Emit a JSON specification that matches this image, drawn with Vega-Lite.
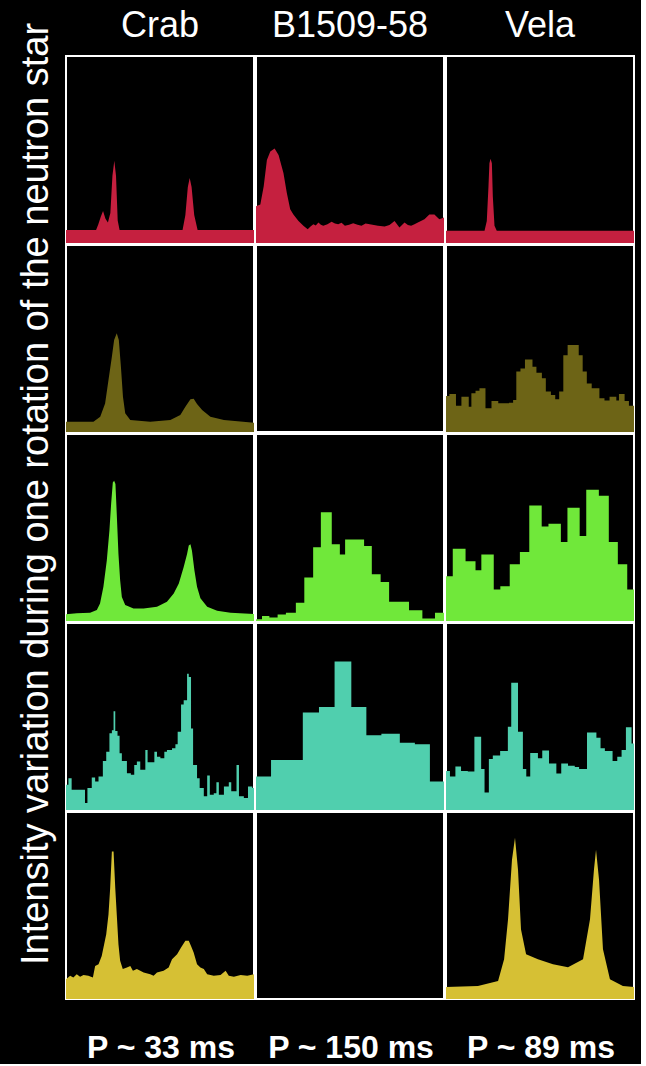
{
"$schema": "https://vega.github.io/schema/vega-lite/v6.json",
"background": "black",
"padding": {"left": 17, "top": 8, "right": 5, "bottom": 0},
"title": {"text": "Intensity variation during one rotation of the neutron star", "orient": "left", "anchor": "middle", "color": "white", "fontSize": 38, "font": "Liberation Sans", "fontWeight": "normal", "offset": 9, "dx": 42},
"spacing": 18,
"vconcat": [
{
"data": {"values": [
{"src":"Crab","band":1,"k":"s","ph":0,"v":0.07},{"src":"Crab","band":1,"k":"s","ph":0.16,"v":0.07},{"src":"Crab","band":1,"k":"s","ph":0.172,"v":0.1},{"src":"Crab","band":1,"k":"s","ph":0.185,"v":0.14},{"src":"Crab","band":1,"k":"s","ph":0.197,"v":0.171},{"src":"Crab","band":1,"k":"s","ph":0.21,"v":0.13},{"src":"Crab","band":1,"k":"s","ph":0.223,"v":0.11},{"src":"Crab","band":1,"k":"s","ph":0.236,"v":0.16},{"src":"Crab","band":1,"k":"s","ph":0.247,"v":0.36},{"src":"Crab","band":1,"k":"s","ph":0.257,"v":0.44},{"src":"Crab","band":1,"k":"s","ph":0.266,"v":0.36},{"src":"Crab","band":1,"k":"s","ph":0.275,"v":0.12},{"src":"Crab","band":1,"k":"s","ph":0.285,"v":0.07},{"src":"Crab","band":1,"k":"s","ph":0.62,"v":0.07},{"src":"Crab","band":1,"k":"s","ph":0.635,"v":0.15},{"src":"Crab","band":1,"k":"s","ph":0.648,"v":0.3},{"src":"Crab","band":1,"k":"s","ph":0.658,"v":0.348},{"src":"Crab","band":1,"k":"s","ph":0.668,"v":0.3},{"src":"Crab","band":1,"k":"s","ph":0.682,"v":0.15},{"src":"Crab","band":1,"k":"s","ph":0.7,"v":0.07},{"src":"Crab","band":1,"k":"s","ph":1,"v":0.07},
{"src":"B1509-58","band":1,"k":"s","ph":0,"v":0.197},{"src":"B1509-58","band":1,"k":"s","ph":0.023,"v":0.206},{"src":"B1509-58","band":1,"k":"s","ph":0.041,"v":0.303},{"src":"B1509-58","band":1,"k":"s","ph":0.058,"v":0.444},{"src":"B1509-58","band":1,"k":"s","ph":0.076,"v":0.489},{"src":"B1509-58","band":1,"k":"s","ph":0.099,"v":0.506},{"src":"B1509-58","band":1,"k":"s","ph":0.12,"v":0.471},{"src":"B1509-58","band":1,"k":"s","ph":0.146,"v":0.374},{"src":"B1509-58","band":1,"k":"s","ph":0.164,"v":0.268},{"src":"B1509-58","band":1,"k":"s","ph":0.182,"v":0.18},{"src":"B1509-58","band":1,"k":"s","ph":0.199,"v":0.153},{"src":"B1509-58","band":1,"k":"s","ph":0.226,"v":0.118},{"src":"B1509-58","band":1,"k":"s","ph":0.252,"v":0.092},{"src":"B1509-58","band":1,"k":"s","ph":0.275,"v":0.074},{"src":"B1509-58","band":1,"k":"s","ph":0.29,"v":0.088},{"src":"B1509-58","band":1,"k":"s","ph":0.305,"v":0.1},{"src":"B1509-58","band":1,"k":"s","ph":0.318,"v":0.094},{"src":"B1509-58","band":1,"k":"s","ph":0.332,"v":0.109},{"src":"B1509-58","band":1,"k":"s","ph":0.345,"v":0.098},{"src":"B1509-58","band":1,"k":"s","ph":0.358,"v":0.092},{"src":"B1509-58","band":1,"k":"s","ph":0.38,"v":0.1},{"src":"B1509-58","band":1,"k":"s","ph":0.402,"v":0.113},{"src":"B1509-58","band":1,"k":"s","ph":0.42,"v":0.104},{"src":"B1509-58","band":1,"k":"s","ph":0.437,"v":0.1},{"src":"B1509-58","band":1,"k":"s","ph":0.455,"v":0.108},{"src":"B1509-58","band":1,"k":"s","ph":0.473,"v":0.092},{"src":"B1509-58","band":1,"k":"s","ph":0.495,"v":0.098},{"src":"B1509-58","band":1,"k":"s","ph":0.517,"v":0.106},{"src":"B1509-58","band":1,"k":"s","ph":0.54,"v":0.098},{"src":"B1509-58","band":1,"k":"s","ph":0.561,"v":0.092},{"src":"B1509-58","band":1,"k":"s","ph":0.583,"v":0.104},{"src":"B1509-58","band":1,"k":"s","ph":0.605,"v":0.1},{"src":"B1509-58","band":1,"k":"s","ph":0.627,"v":0.096},{"src":"B1509-58","band":1,"k":"s","ph":0.649,"v":0.092},{"src":"B1509-58","band":1,"k":"s","ph":0.684,"v":0.088},{"src":"B1509-58","band":1,"k":"s","ph":0.71,"v":0.096},{"src":"B1509-58","band":1,"k":"s","ph":0.737,"v":0.118},{"src":"B1509-58","band":1,"k":"s","ph":0.763,"v":0.083},{"src":"B1509-58","band":1,"k":"s","ph":0.79,"v":0.109},{"src":"B1509-58","band":1,"k":"s","ph":0.808,"v":0.096},{"src":"B1509-58","band":1,"k":"s","ph":0.825,"v":0.092},{"src":"B1509-58","band":1,"k":"s","ph":0.843,"v":0.1},{"src":"B1509-58","band":1,"k":"s","ph":0.861,"v":0.109},{"src":"B1509-58","band":1,"k":"s","ph":0.896,"v":0.127},{"src":"B1509-58","band":1,"k":"s","ph":0.922,"v":0.153},{"src":"B1509-58","band":1,"k":"s","ph":0.949,"v":0.153},{"src":"B1509-58","band":1,"k":"s","ph":0.975,"v":0.127},{"src":"B1509-58","band":1,"k":"s","ph":1,"v":0.136},
{"src":"Vela","band":1,"k":"s","ph":0,"v":0.065},{"src":"Vela","band":1,"k":"s","ph":0.205,"v":0.065},{"src":"Vela","band":1,"k":"s","ph":0.217,"v":0.118},{"src":"Vela","band":1,"k":"s","ph":0.226,"v":0.303},{"src":"Vela","band":1,"k":"s","ph":0.231,"v":0.427},{"src":"Vela","band":1,"k":"s","ph":0.237,"v":0.45},{"src":"Vela","band":1,"k":"s","ph":0.244,"v":0.427},{"src":"Vela","band":1,"k":"s","ph":0.249,"v":0.25},{"src":"Vela","band":1,"k":"s","ph":0.258,"v":0.092},{"src":"Vela","band":1,"k":"s","ph":0.27,"v":0.065},{"src":"Vela","band":1,"k":"s","ph":1,"v":0.065},
{"src":"Crab","band":2,"k":"s","ph":0,"v":0.055},{"src":"Crab","band":2,"k":"s","ph":0.146,"v":0.055},{"src":"Crab","band":2,"k":"s","ph":0.182,"v":0.082},{"src":"Crab","band":2,"k":"s","ph":0.208,"v":0.153},{"src":"Crab","band":2,"k":"s","ph":0.226,"v":0.278},{"src":"Crab","band":2,"k":"s","ph":0.244,"v":0.403},{"src":"Crab","band":2,"k":"s","ph":0.256,"v":0.492},{"src":"Crab","band":2,"k":"s","ph":0.27,"v":0.528},{"src":"Crab","band":2,"k":"s","ph":0.281,"v":0.492},{"src":"Crab","band":2,"k":"s","ph":0.292,"v":0.35},{"src":"Crab","band":2,"k":"s","ph":0.303,"v":0.189},{"src":"Crab","band":2,"k":"s","ph":0.315,"v":0.1},{"src":"Crab","band":2,"k":"s","ph":0.342,"v":0.064},{"src":"Crab","band":2,"k":"s","ph":0.448,"v":0.055},{"src":"Crab","band":2,"k":"s","ph":0.555,"v":0.064},{"src":"Crab","band":2,"k":"s","ph":0.608,"v":0.091},{"src":"Crab","band":2,"k":"s","ph":0.635,"v":0.135},{"src":"Crab","band":2,"k":"s","ph":0.662,"v":0.175},{"src":"Crab","band":2,"k":"s","ph":0.679,"v":0.178},{"src":"Crab","band":2,"k":"s","ph":0.697,"v":0.15},{"src":"Crab","band":2,"k":"s","ph":0.724,"v":0.118},{"src":"Crab","band":2,"k":"s","ph":0.768,"v":0.082},{"src":"Crab","band":2,"k":"s","ph":0.84,"v":0.064},{"src":"Crab","band":2,"k":"s","ph":1,"v":0.05},
{"src":"B1509-58","band":2,"k":"s","ph":0,"v":0},{"src":"B1509-58","band":2,"k":"s","ph":1,"v":0},
{"src":"Vela","band":2,"k":"t","ph":0,"v":0.193},{"src":"Vela","band":2,"k":"t","ph":0.018,"v":0.203},{"src":"Vela","band":2,"k":"t","ph":0.053,"v":0.141},{"src":"Vela","band":2,"k":"t","ph":0.082,"v":0.189},{"src":"Vela","band":2,"k":"t","ph":0.121,"v":0.135},{"src":"Vela","band":2,"k":"t","ph":0.135,"v":0.207},{"src":"Vela","band":2,"k":"t","ph":0.157,"v":0.22},{"src":"Vela","band":2,"k":"t","ph":0.178,"v":0.234},{"src":"Vela","band":2,"k":"t","ph":0.21,"v":0.127},{"src":"Vela","band":2,"k":"t","ph":0.242,"v":0.166},{"src":"Vela","band":2,"k":"t","ph":0.278,"v":0.154},{"src":"Vela","band":2,"k":"t","ph":0.335,"v":0.157},{"src":"Vela","band":2,"k":"t","ph":0.357,"v":0.171},{"src":"Vela","band":2,"k":"t","ph":0.374,"v":0.323},{"src":"Vela","band":2,"k":"t","ph":0.396,"v":0.34},{"src":"Vela","band":2,"k":"t","ph":0.42,"v":0.388},{"src":"Vela","band":2,"k":"t","ph":0.46,"v":0.349},{"src":"Vela","band":2,"k":"t","ph":0.481,"v":0.317},{"src":"Vela","band":2,"k":"t","ph":0.51,"v":0.287},{"src":"Vela","band":2,"k":"t","ph":0.531,"v":0.216},{"src":"Vela","band":2,"k":"t","ph":0.558,"v":0.198},{"src":"Vela","band":2,"k":"t","ph":0.581,"v":0.175},{"src":"Vela","band":2,"k":"t","ph":0.602,"v":0.216},{"src":"Vela","band":2,"k":"t","ph":0.624,"v":0.411},{"src":"Vela","band":2,"k":"t","ph":0.647,"v":0.465},{"src":"Vela","band":2,"k":"t","ph":0.706,"v":0.411},{"src":"Vela","band":2,"k":"t","ph":0.727,"v":0.323},{"src":"Vela","band":2,"k":"t","ph":0.749,"v":0.26},{"src":"Vela","band":2,"k":"t","ph":0.775,"v":0.234},{"src":"Vela","band":2,"k":"t","ph":0.816,"v":0.18},{"src":"Vela","band":2,"k":"t","ph":0.843,"v":0.168},{"src":"Vela","band":2,"k":"t","ph":0.87,"v":0.189},{"src":"Vela","band":2,"k":"t","ph":0.906,"v":0.168},{"src":"Vela","band":2,"k":"t","ph":0.92,"v":0.203},{"src":"Vela","band":2,"k":"t","ph":0.95,"v":0.166},{"src":"Vela","band":2,"k":"t","ph":0.973,"v":0.141},{"src":"Vela","band":2,"k":"t","ph":1,"v":0.141},
{"src":"Crab","band":3,"k":"s","ph":0,"v":0.036},{"src":"Crab","band":3,"k":"s","ph":0.057,"v":0.041},{"src":"Crab","band":3,"k":"s","ph":0.128,"v":0.044},{"src":"Crab","band":3,"k":"s","ph":0.164,"v":0.059},{"src":"Crab","band":3,"k":"s","ph":0.181,"v":0.094},{"src":"Crab","band":3,"k":"s","ph":0.199,"v":0.183},{"src":"Crab","band":3,"k":"s","ph":0.217,"v":0.324},{"src":"Crab","band":3,"k":"s","ph":0.231,"v":0.484},{"src":"Crab","band":3,"k":"s","ph":0.24,"v":0.626},{"src":"Crab","band":3,"k":"s","ph":0.249,"v":0.741},{"src":"Crab","band":3,"k":"s","ph":0.256,"v":0.75},{"src":"Crab","band":3,"k":"s","ph":0.263,"v":0.732},{"src":"Crab","band":3,"k":"s","ph":0.27,"v":0.572},{"src":"Crab","band":3,"k":"s","ph":0.279,"v":0.358},{"src":"Crab","band":3,"k":"s","ph":0.288,"v":0.218},{"src":"Crab","band":3,"k":"s","ph":0.297,"v":0.129},{"src":"Crab","band":3,"k":"s","ph":0.315,"v":0.085},{"src":"Crab","band":3,"k":"s","ph":0.359,"v":0.067},{"src":"Crab","band":3,"k":"s","ph":0.413,"v":0.067},{"src":"Crab","band":3,"k":"s","ph":0.484,"v":0.076},{"src":"Crab","band":3,"k":"s","ph":0.537,"v":0.103},{"src":"Crab","band":3,"k":"s","ph":0.573,"v":0.147},{"src":"Crab","band":3,"k":"s","ph":0.6,"v":0.2},{"src":"Crab","band":3,"k":"s","ph":0.626,"v":0.289},{"src":"Crab","band":3,"k":"s","ph":0.644,"v":0.358},{"src":"Crab","band":3,"k":"s","ph":0.653,"v":0.404},{"src":"Crab","band":3,"k":"s","ph":0.662,"v":0.41},{"src":"Crab","band":3,"k":"s","ph":0.67,"v":0.376},{"src":"Crab","band":3,"k":"s","ph":0.683,"v":0.271},{"src":"Crab","band":3,"k":"s","ph":0.697,"v":0.183},{"src":"Crab","band":3,"k":"s","ph":0.715,"v":0.121},{"src":"Crab","band":3,"k":"s","ph":0.751,"v":0.076},{"src":"Crab","band":3,"k":"s","ph":0.804,"v":0.055},{"src":"Crab","band":3,"k":"s","ph":0.875,"v":0.044},{"src":"Crab","band":3,"k":"s","ph":1,"v":0.037},
{"src":"B1509-58","band":3,"k":"t","ph":0,"v":0.01},{"src":"B1509-58","band":3,"k":"t","ph":0.032,"v":0.027},{"src":"B1509-58","band":3,"k":"t","ph":0.071,"v":0.019},{"src":"B1509-58","band":3,"k":"t","ph":0.115,"v":0.035},{"src":"B1509-58","band":3,"k":"t","ph":0.159,"v":0.044},{"src":"B1509-58","band":3,"k":"t","ph":0.212,"v":0.097},{"src":"B1509-58","band":3,"k":"t","ph":0.257,"v":0.232},{"src":"B1509-58","band":3,"k":"t","ph":0.304,"v":0.395},{"src":"B1509-58","band":3,"k":"t","ph":0.345,"v":0.582},{"src":"B1509-58","band":3,"k":"t","ph":0.403,"v":0.41},{"src":"B1509-58","band":3,"k":"t","ph":0.446,"v":0.356},{"src":"B1509-58","band":3,"k":"t","ph":0.474,"v":0.436},{"src":"B1509-58","band":3,"k":"t","ph":0.575,"v":0.401},{"src":"B1509-58","band":3,"k":"t","ph":0.616,"v":0.25},{"src":"B1509-58","band":3,"k":"t","ph":0.663,"v":0.209},{"src":"B1509-58","band":3,"k":"t","ph":0.708,"v":0.103},{"src":"B1509-58","band":3,"k":"t","ph":0.814,"v":0.058},{"src":"B1509-58","band":3,"k":"t","ph":0.885,"v":0.014},{"src":"B1509-58","band":3,"k":"t","ph":0.952,"v":0.044},{"src":"B1509-58","band":3,"k":"t","ph":1,"v":0.044},
{"src":"Vela","band":3,"k":"t","ph":0,"v":0.239},{"src":"Vela","band":3,"k":"t","ph":0.036,"v":0.387},{"src":"Vela","band":3,"k":"t","ph":0.104,"v":0.319},{"src":"Vela","band":3,"k":"t","ph":0.157,"v":0.271},{"src":"Vela","band":3,"k":"t","ph":0.188,"v":0.355},{"src":"Vela","band":3,"k":"t","ph":0.254,"v":0.168},{"src":"Vela","band":3,"k":"t","ph":0.289,"v":0.186},{"src":"Vela","band":3,"k":"t","ph":0.339,"v":0.303},{"src":"Vela","band":3,"k":"t","ph":0.393,"v":0.369},{"src":"Vela","band":3,"k":"t","ph":0.443,"v":0.617},{"src":"Vela","band":3,"k":"t","ph":0.509,"v":0.505},{"src":"Vela","band":3,"k":"t","ph":0.545,"v":0.52},{"src":"Vela","band":3,"k":"t","ph":0.611,"v":0.422},{"src":"Vela","band":3,"k":"t","ph":0.646,"v":0.605},{"src":"Vela","band":3,"k":"t","ph":0.711,"v":0.454},{"src":"Vela","band":3,"k":"t","ph":0.746,"v":0.702},{"src":"Vela","band":3,"k":"t","ph":0.813,"v":0.67},{"src":"Vela","band":3,"k":"t","ph":0.866,"v":0.422},{"src":"Vela","band":3,"k":"t","ph":0.914,"v":0.303},{"src":"Vela","band":3,"k":"t","ph":0.964,"v":0.168},{"src":"Vela","band":3,"k":"t","ph":1,"v":0.168},
{"src":"Crab","band":4,"k":"t","ph":0,"v":0.135},{"src":"Crab","band":4,"k":"t","ph":0.013,"v":0.17},{"src":"Crab","band":4,"k":"t","ph":0.03,"v":0.108},{"src":"Crab","band":4,"k":"t","ph":0.101,"v":0.037},{"src":"Crab","band":4,"k":"t","ph":0.114,"v":0.117},{"src":"Crab","band":4,"k":"t","ph":0.137,"v":0.174},{"src":"Crab","band":4,"k":"t","ph":0.155,"v":0.152},{"src":"Crab","band":4,"k":"t","ph":0.173,"v":0.179},{"src":"Crab","band":4,"k":"t","ph":0.196,"v":0.262},{"src":"Crab","band":4,"k":"t","ph":0.214,"v":0.312},{"src":"Crab","band":4,"k":"t","ph":0.231,"v":0.41},{"src":"Crab","band":4,"k":"t","ph":0.244,"v":0.427},{"src":"Crab","band":4,"k":"t","ph":0.253,"v":0.528},{"src":"Crab","band":4,"k":"t","ph":0.262,"v":0.422},{"src":"Crab","band":4,"k":"t","ph":0.274,"v":0.397},{"src":"Crab","band":4,"k":"t","ph":0.285,"v":0.303},{"src":"Crab","band":4,"k":"t","ph":0.297,"v":0.262},{"src":"Crab","band":4,"k":"t","ph":0.324,"v":0.197},{"src":"Crab","band":4,"k":"t","ph":0.345,"v":0.188},{"src":"Crab","band":4,"k":"t","ph":0.363,"v":0.241},{"src":"Crab","band":4,"k":"t","ph":0.377,"v":0.259},{"src":"Crab","band":4,"k":"t","ph":0.395,"v":0.215},{"src":"Crab","band":4,"k":"t","ph":0.422,"v":0.321},{"src":"Crab","band":4,"k":"t","ph":0.434,"v":0.255},{"src":"Crab","band":4,"k":"t","ph":0.47,"v":0.312},{"src":"Crab","band":4,"k":"t","ph":0.484,"v":0.285},{"src":"Crab","band":4,"k":"t","ph":0.502,"v":0.277},{"src":"Crab","band":4,"k":"t","ph":0.523,"v":0.312},{"src":"Crab","band":4,"k":"t","ph":0.537,"v":0.321},{"src":"Crab","band":4,"k":"t","ph":0.564,"v":0.33},{"src":"Crab","band":4,"k":"t","ph":0.582,"v":0.351},{"src":"Crab","band":4,"k":"t","ph":0.594,"v":0.418},{"src":"Crab","band":4,"k":"t","ph":0.612,"v":0.564},{"src":"Crab","band":4,"k":"t","ph":0.626,"v":0.587},{"src":"Crab","band":4,"k":"t","ph":0.644,"v":0.729},{"src":"Crab","band":4,"k":"t","ph":0.653,"v":0.711},{"src":"Crab","band":4,"k":"t","ph":0.665,"v":0.436},{"src":"Crab","band":4,"k":"t","ph":0.676,"v":0.241},{"src":"Crab","band":4,"k":"t","ph":0.697,"v":0.17},{"src":"Crab","band":4,"k":"t","ph":0.711,"v":0.117},{"src":"Crab","band":4,"k":"t","ph":0.733,"v":0.073},{"src":"Crab","band":4,"k":"t","ph":0.751,"v":0.184},{"src":"Crab","band":4,"k":"t","ph":0.765,"v":0.082},{"src":"Crab","band":4,"k":"t","ph":0.786,"v":0.09},{"src":"Crab","band":4,"k":"t","ph":0.8,"v":0.149},{"src":"Crab","band":4,"k":"t","ph":0.813,"v":0.082},{"src":"Crab","band":4,"k":"t","ph":0.84,"v":0.126},{"src":"Crab","band":4,"k":"t","ph":0.866,"v":0.149},{"src":"Crab","band":4,"k":"t","ph":0.879,"v":0.1},{"src":"Crab","band":4,"k":"t","ph":0.907,"v":0.241},{"src":"Crab","band":4,"k":"t","ph":0.92,"v":0.073},{"src":"Crab","band":4,"k":"t","ph":0.946,"v":0.064},{"src":"Crab","band":4,"k":"t","ph":0.968,"v":0.126},{"src":"Crab","band":4,"k":"t","ph":0.991,"v":0.117},{"src":"Crab","band":4,"k":"t","ph":1,"v":0.117},
{"src":"B1509-58","band":4,"k":"t","ph":0,"v":0.179},{"src":"B1509-58","band":4,"k":"t","ph":0.08,"v":0.268},{"src":"B1509-58","band":4,"k":"t","ph":0.249,"v":0.521},{"src":"B1509-58","band":4,"k":"t","ph":0.335,"v":0.551},{"src":"B1509-58","band":4,"k":"t","ph":0.418,"v":0.794},{"src":"B1509-58","band":4,"k":"t","ph":0.507,"v":0.551},{"src":"B1509-58","band":4,"k":"t","ph":0.587,"v":0.4},{"src":"B1509-58","band":4,"k":"t","ph":0.667,"v":0.408},{"src":"B1509-58","band":4,"k":"t","ph":0.765,"v":0.36},{"src":"B1509-58","band":4,"k":"t","ph":0.845,"v":0.351},{"src":"B1509-58","band":4,"k":"t","ph":0.925,"v":0.152},{"src":"B1509-58","band":4,"k":"t","ph":1,"v":0.152},
{"src":"Vela","band":4,"k":"t","ph":0,"v":0.209},{"src":"Vela","band":4,"k":"t","ph":0.021,"v":0.179},{"src":"Vela","band":4,"k":"t","ph":0.05,"v":0.232},{"src":"Vela","band":4,"k":"t","ph":0.08,"v":0.209},{"src":"Vela","band":4,"k":"t","ph":0.116,"v":0.206},{"src":"Vela","band":4,"k":"t","ph":0.151,"v":0.392},{"src":"Vela","band":4,"k":"t","ph":0.187,"v":0.219},{"src":"Vela","band":4,"k":"t","ph":0.205,"v":0.094},{"src":"Vela","band":4,"k":"t","ph":0.228,"v":0.273},{"src":"Vela","band":4,"k":"t","ph":0.249,"v":0.291},{"src":"Vela","band":4,"k":"t","ph":0.288,"v":0.316},{"src":"Vela","band":4,"k":"t","ph":0.329,"v":0.445},{"src":"Vela","band":4,"k":"t","ph":0.347,"v":0.681},{"src":"Vela","band":4,"k":"t","ph":0.383,"v":0.418},{"src":"Vela","band":4,"k":"t","ph":0.409,"v":0.219},{"src":"Vela","band":4,"k":"t","ph":0.427,"v":0.179},{"src":"Vela","band":4,"k":"t","ph":0.448,"v":0.305},{"src":"Vela","band":4,"k":"t","ph":0.489,"v":0.277},{"src":"Vela","band":4,"k":"t","ph":0.512,"v":0.318},{"src":"Vela","band":4,"k":"t","ph":0.548,"v":0.248},{"src":"Vela","band":4,"k":"t","ph":0.587,"v":0.195},{"src":"Vela","band":4,"k":"t","ph":0.613,"v":0.248},{"src":"Vela","band":4,"k":"t","ph":0.649,"v":0.236},{"src":"Vela","band":4,"k":"t","ph":0.685,"v":0.23},{"src":"Vela","band":4,"k":"t","ph":0.708,"v":0.219},{"src":"Vela","band":4,"k":"t","ph":0.75,"v":0.415},{"src":"Vela","band":4,"k":"t","ph":0.8,"v":0.387},{"src":"Vela","band":4,"k":"t","ph":0.822,"v":0.33},{"src":"Vela","band":4,"k":"t","ph":0.845,"v":0.316},{"src":"Vela","band":4,"k":"t","ph":0.886,"v":0.262},{"src":"Vela","band":4,"k":"t","ph":0.911,"v":0.285},{"src":"Vela","band":4,"k":"t","ph":0.934,"v":0.321},{"src":"Vela","band":4,"k":"t","ph":0.957,"v":0.443},{"src":"Vela","band":4,"k":"t","ph":0.987,"v":0.355},{"src":"Vela","band":4,"k":"t","ph":1,"v":0.355},
{"src":"Crab","band":5,"k":"s","ph":0,"v":0.106},{"src":"Crab","band":5,"k":"s","ph":0.022,"v":0.124},{"src":"Crab","band":5,"k":"s","ph":0.039,"v":0.115},{"src":"Crab","band":5,"k":"s","ph":0.057,"v":0.133},{"src":"Crab","band":5,"k":"s","ph":0.075,"v":0.119},{"src":"Crab","band":5,"k":"s","ph":0.093,"v":0.129},{"src":"Crab","band":5,"k":"s","ph":0.119,"v":0.124},{"src":"Crab","band":5,"k":"s","ph":0.143,"v":0.115},{"src":"Crab","band":5,"k":"s","ph":0.155,"v":0.177},{"src":"Crab","band":5,"k":"s","ph":0.173,"v":0.186},{"src":"Crab","band":5,"k":"s","ph":0.19,"v":0.23},{"src":"Crab","band":5,"k":"s","ph":0.203,"v":0.293},{"src":"Crab","band":5,"k":"s","ph":0.214,"v":0.346},{"src":"Crab","band":5,"k":"s","ph":0.226,"v":0.452},{"src":"Crab","band":5,"k":"s","ph":0.235,"v":0.594},{"src":"Crab","band":5,"k":"s","ph":0.244,"v":0.789},{"src":"Crab","band":5,"k":"s","ph":0.253,"v":0.789},{"src":"Crab","band":5,"k":"s","ph":0.262,"v":0.594},{"src":"Crab","band":5,"k":"s","ph":0.27,"v":0.452},{"src":"Crab","band":5,"k":"s","ph":0.279,"v":0.293},{"src":"Crab","band":5,"k":"s","ph":0.288,"v":0.204},{"src":"Crab","band":5,"k":"s","ph":0.302,"v":0.16},{"src":"Crab","band":5,"k":"s","ph":0.324,"v":0.168},{"src":"Crab","band":5,"k":"s","ph":0.342,"v":0.177},{"src":"Crab","band":5,"k":"s","ph":0.356,"v":0.151},{"src":"Crab","band":5,"k":"s","ph":0.377,"v":0.16},{"src":"Crab","band":5,"k":"s","ph":0.413,"v":0.142},{"src":"Crab","band":5,"k":"s","ph":0.448,"v":0.133},{"src":"Crab","band":5,"k":"s","ph":0.466,"v":0.124},{"src":"Crab","band":5,"k":"s","ph":0.484,"v":0.142},{"src":"Crab","band":5,"k":"s","ph":0.519,"v":0.151},{"src":"Crab","band":5,"k":"s","ph":0.546,"v":0.168},{"src":"Crab","band":5,"k":"s","ph":0.564,"v":0.213},{"src":"Crab","band":5,"k":"s","ph":0.591,"v":0.239},{"src":"Crab","band":5,"k":"s","ph":0.612,"v":0.275},{"src":"Crab","band":5,"k":"s","ph":0.635,"v":0.311},{"src":"Crab","band":5,"k":"s","ph":0.653,"v":0.311},{"src":"Crab","band":5,"k":"s","ph":0.665,"v":0.284},{"src":"Crab","band":5,"k":"s","ph":0.679,"v":0.248},{"src":"Crab","band":5,"k":"s","ph":0.697,"v":0.186},{"src":"Crab","band":5,"k":"s","ph":0.715,"v":0.168},{"src":"Crab","band":5,"k":"s","ph":0.733,"v":0.16},{"src":"Crab","band":5,"k":"s","ph":0.751,"v":0.133},{"src":"Crab","band":5,"k":"s","ph":0.786,"v":0.124},{"src":"Crab","band":5,"k":"s","ph":0.822,"v":0.129},{"src":"Crab","band":5,"k":"s","ph":0.849,"v":0.151},{"src":"Crab","band":5,"k":"s","ph":0.866,"v":0.124},{"src":"Crab","band":5,"k":"s","ph":0.893,"v":0.119},{"src":"Crab","band":5,"k":"s","ph":0.929,"v":0.129},{"src":"Crab","band":5,"k":"s","ph":0.964,"v":0.124},{"src":"Crab","band":5,"k":"s","ph":1,"v":0.133},
{"src":"B1509-58","band":5,"k":"s","ph":0,"v":0},{"src":"B1509-58","band":5,"k":"s","ph":1,"v":0},
{"src":"Vela","band":5,"k":"s","ph":0,"v":0.064},{"src":"Vela","band":5,"k":"s","ph":0.17,"v":0.069},{"src":"Vela","band":5,"k":"s","ph":0.277,"v":0.096},{"src":"Vela","band":5,"k":"s","ph":0.309,"v":0.213},{"src":"Vela","band":5,"k":"s","ph":0.33,"v":0.426},{"src":"Vela","band":5,"k":"s","ph":0.351,"v":0.745},{"src":"Vela","band":5,"k":"s","ph":0.367,"v":0.862},{"src":"Vela","band":5,"k":"s","ph":0.383,"v":0.691},{"src":"Vela","band":5,"k":"s","ph":0.399,"v":0.372},{"src":"Vela","band":5,"k":"s","ph":0.426,"v":0.239},{"src":"Vela","band":5,"k":"s","ph":0.489,"v":0.213},{"src":"Vela","band":5,"k":"s","ph":0.569,"v":0.186},{"src":"Vela","band":5,"k":"s","ph":0.649,"v":0.17},{"src":"Vela","band":5,"k":"s","ph":0.729,"v":0.213},{"src":"Vela","band":5,"k":"s","ph":0.766,"v":0.426},{"src":"Vela","band":5,"k":"s","ph":0.787,"v":0.691},{"src":"Vela","band":5,"k":"s","ph":0.798,"v":0.798},{"src":"Vela","band":5,"k":"s","ph":0.814,"v":0.638},{"src":"Vela","band":5,"k":"s","ph":0.835,"v":0.266},{"src":"Vela","band":5,"k":"s","ph":0.872,"v":0.106},{"src":"Vela","band":5,"k":"s","ph":0.941,"v":0.069},{"src":"Vela","band":5,"k":"s","ph":1,"v":0.064}
]},
"facet": {
"row": {"field": "band", "type": "ordinal", "header": null},
"column": {"field": "src", "type": "nominal", "sort": ["Crab", "B1509-58", "Vela"], "header": {"title": null, "labelColor": "white", "labelFontSize": 36, "labelFont": "Liberation Sans", "labelPadding": 10}}
},
"spacing": 0,
"spec": {
"width": 188,
"height": 187,
"encoding": {
"x": {"field": "ph", "type": "quantitative", "scale": {"domain": [0, 1], "nice": false}, "axis": null},
"y": {"field": "v", "type": "quantitative", "scale": {"domain": [0, 1], "nice": false}, "axis": null},
"color": {"field": "band", "type": "ordinal", "scale": {"domain": [1, 2, 3, 4, 5], "range": ["#c5203f", "#6d6416", "#70e83a", "#50cfae", "#d6c034"]}, "legend": null}
},
"layer": [
{"transform": [{"filter": "datum.k == 's'"}], "mark": {"type": "area", "interpolate": "linear", "opacity": 1}},
{"transform": [{"filter": "datum.k == 't'"}], "mark": {"type": "area", "interpolate": "step-after", "opacity": 1}}
]
}
},
{
"data": {"values": [
{"src": "Crab", "period": "P ~ 33 ms"},
{"src": "B1509-58", "period": "P ~ 150 ms"},
{"src": "Vela", "period": "P ~ 89 ms"}
]},
"width": 570,
"height": 40,
"view": {"stroke": null},
"mark": {"type": "text", "color": "white", "fontSize": 32, "fontWeight": "bold", "font": "Liberation Sans", "baseline": "alphabetic", "dy": 20},
"encoding": {
"x": {"field": "src", "type": "nominal", "sort": ["Crab", "B1509-58", "Vela"], "axis": null},
"text": {"field": "period"}
}
}
],
"config": {
"view": {"stroke": "white", "strokeWidth": 2},
"axis": {"grid": false}
}
}
